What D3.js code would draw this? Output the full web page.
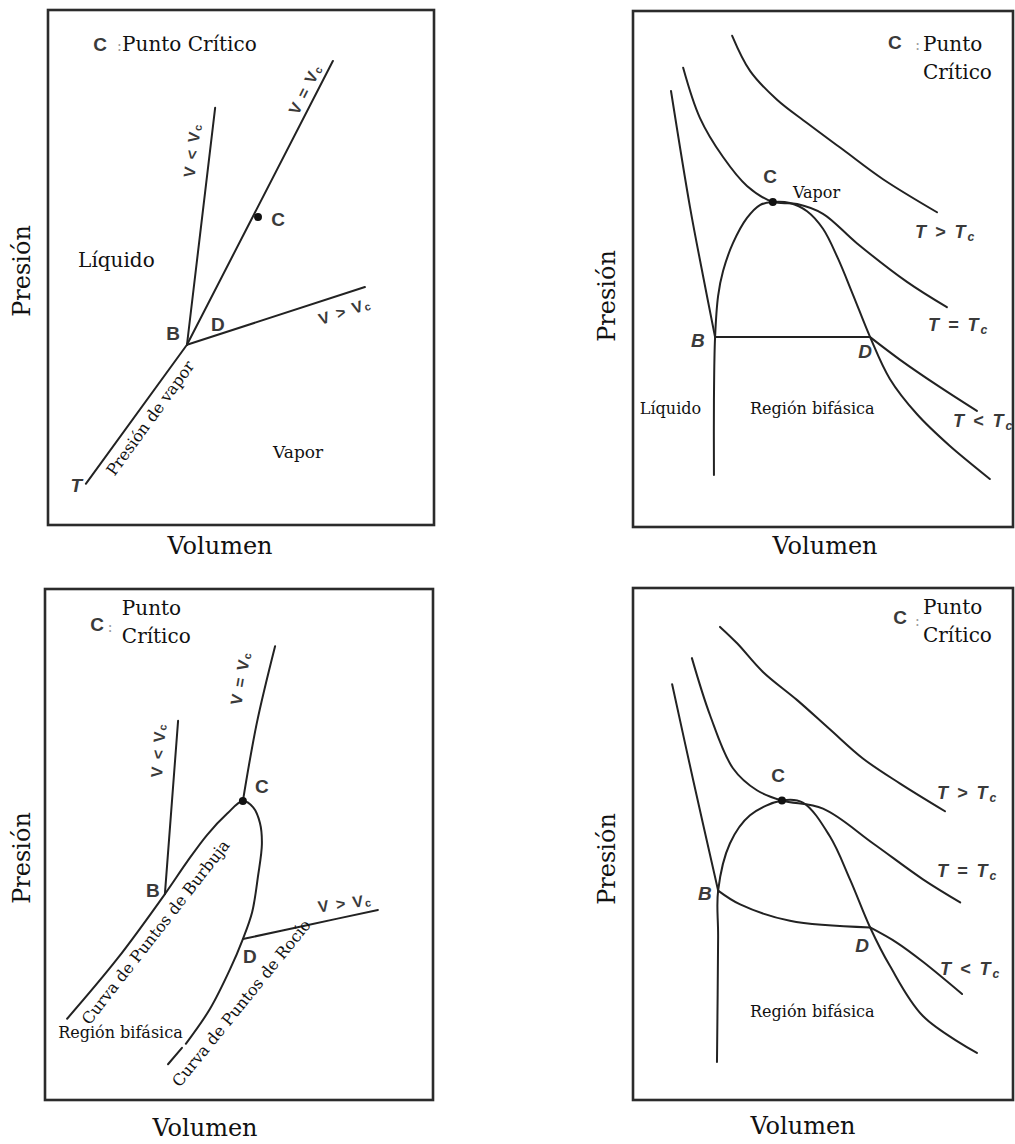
<!DOCTYPE html>
<html>
<head>
<meta charset="utf-8">
<script src="https://cdn.jsdelivr.net/npm/d3@7"></script>
<style>
    body { margin: 0; background: #fff; }
    svg { display: block; }
</style>
</head>
<body>
<div id="chart"></div>
<script>
// All curves are in panel units: volumen 0..100 (left -> right), presión 0..100 (bottom -> top).

// Panel 1: P-T view with isochores
const p1VaporPressure = [[9.8, 8.0], [36.0, 35.0]]
const p1IsochoreLow = [[36.0, 35.0], [43.3, 81.0]]
const p1IsochoreCrit = [[36.0, 35.0], [73.8, 90.1]]
const p1IsochoreHigh = [[36.0, 35.0], [82.1, 46.2]]
const p1Critical = [54.4, 59.8]

// Panel 2: P-V isotherms, flat tie line
const p2IsothermHigh = [[26.1, 95.2], [30.8, 88.4], [37.9, 82.8], [45.8, 78.3], [55.3, 73.1], [65.8, 67.4], [80.0, 61.0]]
const p2IsothermCrit = [[13.2, 89.0], [17.6, 79.3], [23.7, 71.7], [30.0, 66.1], [36.8, 63.0], [43.2, 62.6], [50.0, 60.7], [58.9, 55.0], [72.1, 47.5], [82.6, 42.6]]
const p2IsothermLowLiquid = [[10.0, 84.5], [15.0, 62.0], [18.4, 48.8], [21.6, 36.8]]
const p2TieLine = [[21.6, 36.8], [62.4, 36.8]]
const p2IsothermLowVapor = [[62.4, 36.8], [70.3, 32.4], [80.8, 27.1], [90.5, 22.5]]
const p2Dome = [[21.3, 10.1], [21.3, 24.6], [21.6, 36.8], [22.4, 44.8], [23.7, 49.6], [26.3, 55.0], [30.0, 59.9], [33.4, 62.4], [36.8, 63.0],
    [41.3, 62.8], [45.8, 61.2], [50.0, 57.8], [53.9, 52.1], [57.9, 45.0], [62.4, 36.8], [67.6, 28.7], [74.7, 21.9], [83.4, 15.7], [93.9, 9.3]]
const p2Critical = [36.8, 63.0]

// Panel 3: mixture P-T envelope
const p3BubbleCurve = [[5.7, 15.9], [18.6, 27.6], [30.9, 40.3], [36.6, 46.6], [41.8, 51.9], [46.9, 56.0], [51.0, 58.5]]
const p3DewCurve = [[51.0, 58.5], [53.6, 57.3], [55.4, 54.2], [55.9, 50.1], [54.9, 43.8], [53.4, 36.8], [51.0, 31.5], [47.7, 25.6], [42.5, 17.8], [36.3, 11.0]]
const p3DewTail = [[31.7, 7.0], [35.3, 10.2]]
const p3IsochoreLow = [[30.9, 40.3], [34.3, 74.2]]
const p3IsochoreCrit = [[51.0, 58.5], [54.6, 73.8], [59.3, 88.8]]
const p3IsochoreHigh = [[51.0, 31.5], [67.5, 34.2], [85.8, 37.2]]
const p3Critical = [51.0, 58.5]

// Panel 4: P-V isotherms, sloped B-D segment
const p4IsothermHigh = [[22.9, 92.4], [27.4, 89.2], [34.2, 83.6], [43.2, 78.1], [51.8, 72.4], [60.5, 66.7], [70.3, 61.8], [82.1, 56.4]]
const p4IsothermCrit = [[15.5, 86.3], [20.3, 75.1], [26.3, 64.8], [32.6, 60.5], [39.2, 58.5], [50.0, 56.9], [63.2, 50.1], [76.3, 43.1], [86.1, 38.6]]
const p4IsothermLowLiquid = [[10.3, 81.2], [15.8, 62.6], [22.4, 40.9]]
const p4IsothermLowMid = [[22.4, 40.9], [28.2, 38.2], [41.3, 35.0], [62.4, 33.7]]
const p4IsothermLowVapor = [[62.4, 33.7], [69.5, 30.7], [76.3, 27.0], [86.6, 20.7]]
const p4Dome = [[22.1, 7.4], [22.4, 31.9], [22.4, 40.9], [25.5, 50.1], [30.8, 55.6], [39.2, 58.5], [44.7, 58.1],
    [51.8, 51.5], [57.1, 43.1], [62.4, 33.7], [67.6, 26.2], [76.3, 16.4], [90.5, 9.2]]
const p4Critical = [39.2, 58.5]

// Annotations (text, optional subscript, anchor in panel units, kind, rotation)
const p1Labels = [
    {t: 'C', u: 13.5, v: 92.0, k: 'tag', a: 'middle'},
    {t: ':', u: 17.9, v: 92.0, k: 'colon'},
    {t: 'Punto Crítico', u: 19.2, v: 92.0, k: 'note'},
    {t: 'Líquido', u: 7.8, v: 50.1, k: 'phase'},
    {t: 'Vapor', u: 58.3, v: 13.0, k: 'vapor'},
    {t: 'B', u: 32.4, v: 35.9, k: 'tag', a: 'middle'},
    {t: 'D', u: 44.0, v: 37.7, k: 'tag', a: 'middle'},
    {t: 'C', u: 59.6, v: 58.1, k: 'tag', a: 'middle'},
    {t: 'T', u: 7.3, v: 6.4, k: 'tagIt', a: 'middle'},
    {t: 'V < V', s: 'c', u: 37.3, v: 72.8, k: 'vlab', r: -83},
    {t: 'V = V', s: 'c', u: 66.6, v: 84.7, k: 'vlab', r: -63},
    {t: 'V > V', s: 'c', u: 76.9, v: 41.6, k: 'vlab', r: -18},
    {t: 'Presión de vapor', u: 26.4, v: 20.8, k: 'curve', r: -54}
]
const p2Labels = [
    {t: 'C', u: 68.9, v: 92.6, k: 'tag', a: 'middle'},
    {t: ':', u: 74.3, v: 92.4, k: 'colon'},
    {t: 'Punto', u: 76.3, v: 92.2, k: 'note'},
    {t: 'Crítico', u: 76.3, v: 86.8, k: 'note'},
    {t: 'C', u: 36.1, v: 66.7, k: 'tag', a: 'middle'},
    {t: 'Vapor', u: 42.1, v: 63.8, k: 'small'},
    {t: 'B', u: 17.1, v: 34.9, k: 'tagIt', a: 'middle'},
    {t: 'D', u: 61.1, v: 32.8, k: 'tagIt', a: 'middle'},
    {t: 'T > T', s: 'c', u: 74.2, v: 56.0, k: 'iso'},
    {t: 'T = T', s: 'c', u: 77.6, v: 38.0, k: 'iso'},
    {t: 'T < T', s: 'c', u: 84.2, v: 19.4, k: 'iso'},
    {t: 'Líquido', u: 1.8, v: 21.9, k: 'small'},
    {t: 'Región bifásica', u: 30.8, v: 21.9, k: 'small'}
]
const p3Labels = [
    {t: 'C', u: 13.4, v: 91.8, k: 'tag', a: 'middle'},
    {t: ':', u: 16.2, v: 91.6, k: 'colon'},
    {t: 'Punto', u: 19.8, v: 94.9, k: 'note'},
    {t: 'Crítico', u: 19.8, v: 89.4, k: 'note'},
    {t: 'C', u: 55.9, v: 60.1, k: 'tag', a: 'middle'},
    {t: 'B', u: 27.8, v: 39.7, k: 'tag', a: 'middle'},
    {t: 'D', u: 52.8, v: 26.8, k: 'tag', a: 'middle'},
    {t: 'V < V', s: 'c', u: 29.1, v: 68.5, k: 'vlab', r: -86},
    {t: 'V = V', s: 'c', u: 50.3, v: 82.6, k: 'vlab', r: -80},
    {t: 'V > V', s: 'c', u: 77.3, v: 38.6, k: 'vlab', r: -8},
    {t: 'Curva de Puntos de Burbuja', u: 28.4, v: 32.9, k: 'curve', r: -52},
    {t: 'Curva de Puntos de Rocío', u: 50.5, v: 19.0, k: 'curve', r: -51},
    {t: 'Región bifásica', u: 3.4, v: 12.1, k: 'small'}
]
const p4Labels = [
    {t: 'C', u: 70.3, v: 93.0, k: 'tag', a: 'middle'},
    {t: ':', u: 74.2, v: 92.6, k: 'colon'},
    {t: 'Punto', u: 76.3, v: 94.9, k: 'note'},
    {t: 'Crítico', u: 76.3, v: 89.4, k: 'note'},
    {t: 'C', u: 38.2, v: 62.2, k: 'tag', a: 'middle'},
    {t: 'B', u: 18.9, v: 39.1, k: 'tagIt', a: 'middle'},
    {t: 'D', u: 60.3, v: 29.0, k: 'tagIt', a: 'middle'},
    {t: 'T > T', s: 'c', u: 80.0, v: 58.7, k: 'iso'},
    {t: 'T = T', s: 'c', u: 80.0, v: 43.6, k: 'iso'},
    {t: 'T < T', s: 'c', u: 80.8, v: 24.5, k: 'iso'},
    {t: 'Región bifásica', u: 30.8, v: 16.2, k: 'small'}
]

const xTitle = 'Volumen'
const yTitle = 'Presión'

// Text styles by kind.
const SERIF = '"DejaVu Serif", "Liberation Serif", serif'
const SANS = '"Liberation Sans", Arial, sans-serif'
const kinds = {
    note:  {family: SERIF, size: 20, fill: '#111'},
    phase: {family: SERIF, size: 20, fill: '#111'},
    vapor: {family: SERIF, size: 17, fill: '#111'},
    small: {family: SERIF, size: 16, fill: '#111'},
    curve: {family: SERIF, size: 16, fill: '#111'},
    colon: {family: SERIF, size: 14, fill: '#999'},
    tag:   {family: SANS, size: 19, fill: '#3a3a3a', weight: 'bold'},
    tagIt: {family: SANS, size: 19, fill: '#3a3a3a', weight: 'bold', style: 'italic'},
    vlab:  {family: SANS, size: 16, fill: '#3a3a3a', weight: 'bold', spacing: 1.5},
    iso:   {family: SANS, size: 18, fill: '#3a3a3a', weight: 'bold', style: 'italic', spacing: 2}
}

const panels = [
    {box: {left: 48, top: 10, right: 434, bottom: 525}, yt: [22, 271], xt: [220, 546],
        smooth: [], straight: [p1VaporPressure, p1IsochoreLow, p1IsochoreCrit, p1IsochoreHigh],
        critical: p1Critical, labels: p1Labels},
    {box: {left: 633, top: 11, right: 1013, bottom: 527}, yt: [607, 296], xt: [825, 546],
        smooth: [p2IsothermHigh, p2IsothermCrit, p2IsothermLowLiquid, p2IsothermLowVapor, p2Dome], straight: [p2TieLine],
        critical: p2Critical, labels: p2Labels},
    {box: {left: 45, top: 589, right: 433, bottom: 1100}, yt: [22, 858], xt: [205, 1128],
        smooth: [p3BubbleCurve.concat(p3DewCurve.slice(1)), p3IsochoreCrit, p3IsochoreHigh], straight: [p3IsochoreLow, p3DewTail],
        critical: p3Critical, labels: p3Labels},
    {box: {left: 633, top: 588, right: 1013, bottom: 1100}, yt: [607, 859], xt: [803, 1126],
        smooth: [p4IsothermHigh, p4IsothermCrit, p4IsothermLowLiquid, p4IsothermLowMid, p4IsothermLowVapor, p4Dome], straight: [],
        critical: p4Critical, labels: p4Labels}
]

const svg = d3.select('#chart')
    .append('svg')
    .attr('width', 1015)
    .attr('height', 1144)

panels.forEach(p => drawPanel(p))

function drawPanel(p) {
    const x = d3.scaleLinear().domain([0, 100]).range([p.box.left, p.box.right])
    const y = d3.scaleLinear().domain([0, 100]).range([p.box.bottom, p.box.top])
    const g = svg.append('g')

    g.append('rect')
        .attr('x', x(0))
        .attr('y', y(100))
        .attr('width', x(100) - x(0))
        .attr('height', y(0) - y(100))
        .attr('fill', 'none')
        .attr('stroke', '#2b2b2b')
        .attr('stroke-width', 2.6)

    const smoothLine = d3.line().x(d => x(d[0])).y(d => y(d[1])).curve(d3.curveCatmullRom.alpha(0.5))
    const straightLine = d3.line().x(d => x(d[0])).y(d => y(d[1]))

    g.selectAll('path.smooth')
        .data(p.smooth)
        .join('path')
        .attr('class', 'smooth')
        .attr('d', smoothLine)
        .attr('fill', 'none')
        .attr('stroke', '#222')
        .attr('stroke-width', 2)
        .attr('stroke-linecap', 'round')

    g.selectAll('path.straight')
        .data(p.straight)
        .join('path')
        .attr('class', 'straight')
        .attr('d', straightLine)
        .attr('fill', 'none')
        .attr('stroke', '#222')
        .attr('stroke-width', 2)
        .attr('stroke-linecap', 'round')

    g.append('circle')
        .attr('cx', x(p.critical[0]))
        .attr('cy', y(p.critical[1]))
        .attr('r', 4)
        .attr('fill', '#111')

    const labels = g.selectAll('text.label')
        .data(p.labels)
        .join('text')
        .attr('class', 'label')
        .attr('transform', d => `translate(${x(d.u)},${y(d.v)})` + (d.r ? ` rotate(${d.r})` : ''))
        .attr('text-anchor', d => d.r ? 'middle' : (d.a || 'start'))
        .attr('dominant-baseline', d => d.r ? 'central' : 'alphabetic')
        .attr('font-family', d => kinds[d.k].family)
        .attr('font-size', d => kinds[d.k].size)
        .attr('font-weight', d => kinds[d.k].weight || 'normal')
        .attr('font-style', d => kinds[d.k].style || 'normal')
        .attr('letter-spacing', d => kinds[d.k].spacing || 0)
        .attr('fill', d => kinds[d.k].fill)

    labels.append('tspan').text(d => d.t)
    labels.filter(d => d.s)
        .append('tspan')
        .attr('font-size', d => kinds[d.k].size * 0.68)
        .attr('dy', 3)
        .text(d => d.s)

    // Axis titles
    g.append('text')
        .attr('transform', `translate(${p.yt[0]},${p.yt[1]}) rotate(-90)`)
        .attr('text-anchor', 'middle')
        .attr('dominant-baseline', 'central')
        .attr('font-family', SERIF)
        .attr('font-size', 24)
        .attr('fill', '#111')
        .text(yTitle)

    g.append('text')
        .attr('x', p.xt[0])
        .attr('y', p.xt[1])
        .attr('text-anchor', 'middle')
        .attr('dominant-baseline', 'central')
        .attr('font-family', SERIF)
        .attr('font-size', 24)
        .attr('fill', '#111')
        .text(xTitle)
}
</script>
</body>
</html>
